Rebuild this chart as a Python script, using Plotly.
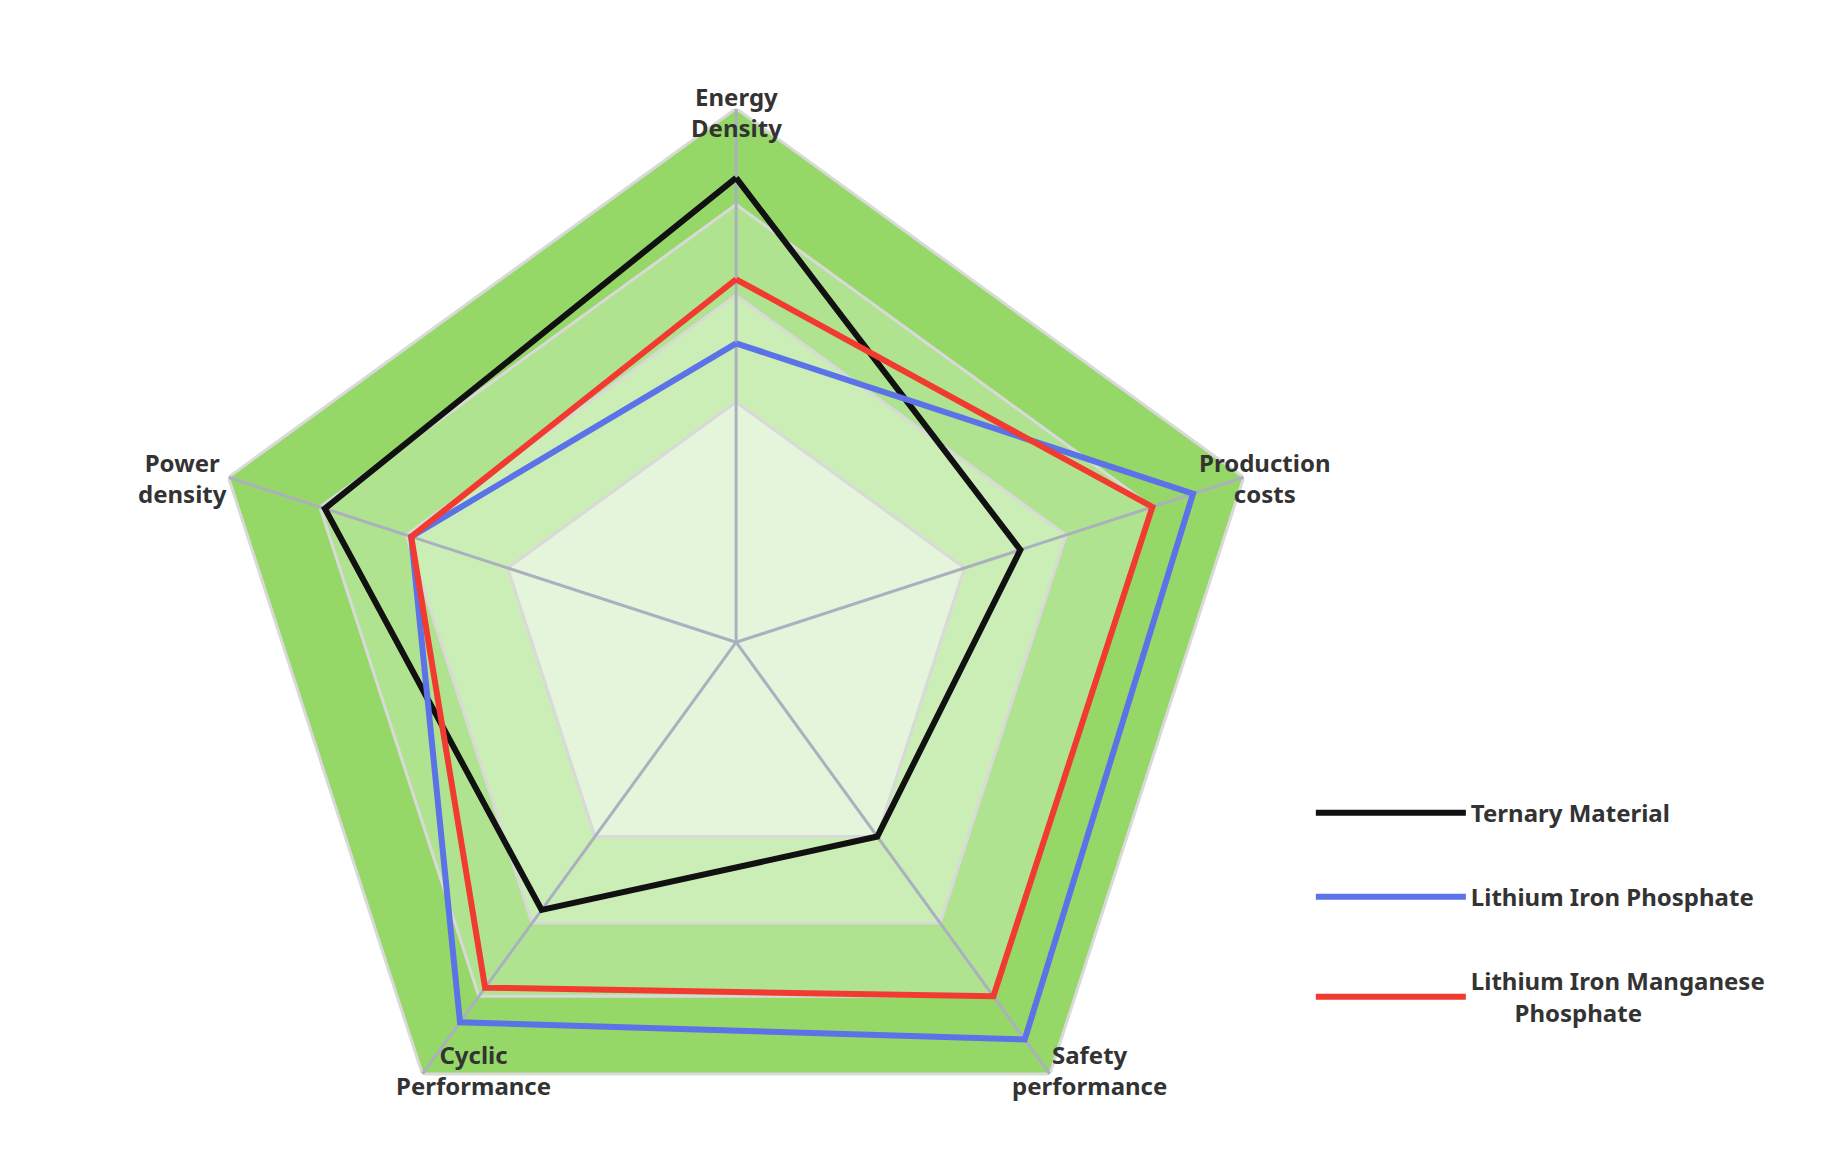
import plotly.graph_objects as go

categories = ["Energy<br>Density", "Production<br>costs", "Safety<br>performance",
              "Cyclic<br>Performance", "Power<br>density"]
ternary = [87, 56, 45, 62, 81]
lfp = [56, 90, 92, 88, 64]
lmfp = [68, 82, 82, 80, 64]
band_levels = [100, 82, 65, 45]
band_colors = ["#95d867", "#b0e38f", "#cbeeb6", "#e5f5dc"]
label_pos = [(0.394, 0.94), (0.717, 0.598), (0.585, 0.062), (0.209, 0.062), (0.069, 0.598)]

theta = categories + [categories[0]]
fig = go.Figure()

# background bands, outermost first
for lvl, col in zip(band_levels, band_colors):
    fig.add_trace(go.Scatterpolar(r=[lvl] * 6, theta=theta, fill="toself", fillcolor=col,
                                  mode="lines", line=dict(color="#d9d9d9", width=3),
                                  showlegend=False, hoverinfo="skip"))
# spokes
for c in categories:
    fig.add_trace(go.Scatterpolar(r=[0, 100], theta=[c, c], mode="lines",
                                  line=dict(color="#aab0bd", width=3),
                                  showlegend=False, hoverinfo="skip"))

series = [("Ternary Material", ternary, "#111111"),
          ("Lithium Iron Phosphate", lfp, "#5b72e8"),
          ("Lithium Iron Manganese<br>       Phosphate", lmfp, "#f23b30")]
for name, vals, col in series:
    fig.add_trace(go.Scatterpolar(r=vals + [vals[0]], theta=theta, mode="lines",
                                  name="<b>" + name + "</b>", legendgroup=name,
                                  line=dict(color=col, width=6)))

for c, (x, y) in zip(categories, label_pos):
    fig.add_annotation(x=x, y=y, xref="paper", yref="paper", showarrow=False,
                       text="<b>" + c + "</b>", align="center",
                       font=dict(size=24, color="#333333"))

fig.update_layout(
    width=1848, height=1168,
    paper_bgcolor="white",
    font=dict(family="Noto Sans", color="#333333"),
    margin=dict(l=0, r=0, t=0, b=0),
    polar=dict(
        domain=dict(x=[0.105, 0.683], y=[0.0, 0.914]),
        bgcolor="white",
        radialaxis=dict(range=[0, 100], visible=False),
        angularaxis=dict(direction="clockwise", rotation=90, showgrid=False, showline=False,
                         ticks="", showticklabels=False,
                         categoryorder="array", categoryarray=categories),
    ),
    legend=dict(x=0.705, y=0.33, xanchor="left", yanchor="top", bgcolor="rgba(0,0,0,0)",
                font=dict(size=24, color="#333333"), itemwidth=150, tracegroupgap=50),
)
fig.write_html("out.html")
